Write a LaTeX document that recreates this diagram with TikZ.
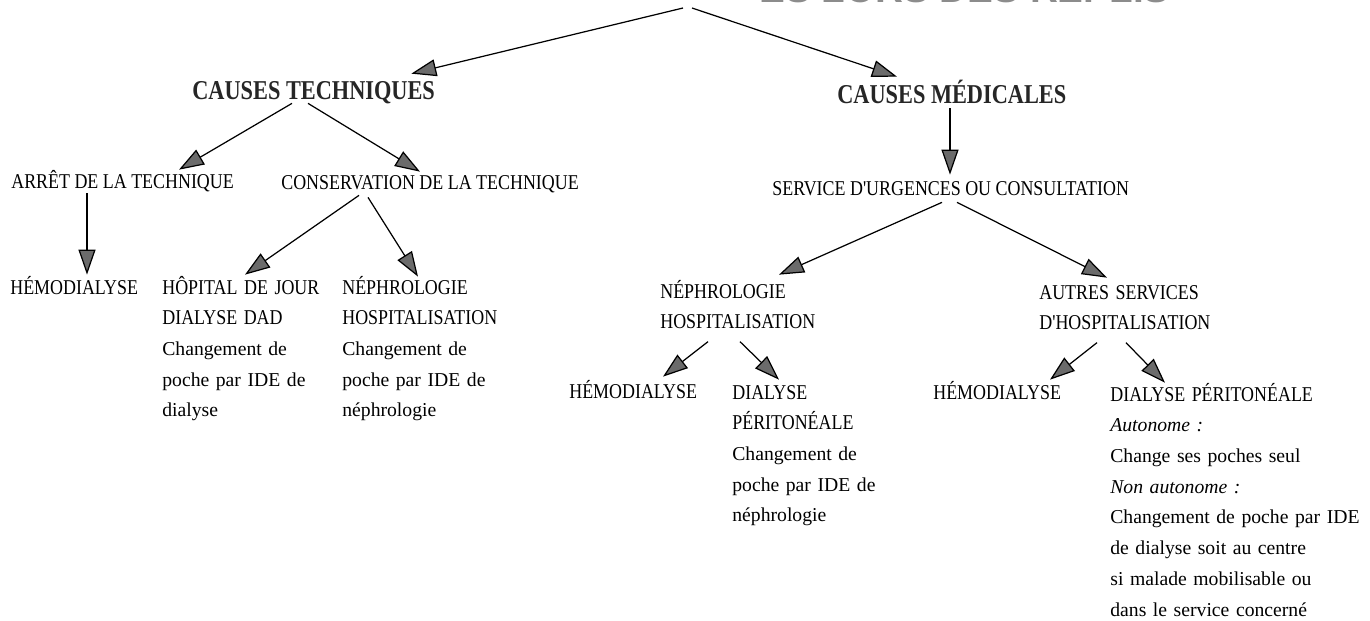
\documentclass[tikz,border=0pt]{standalone}
\usepackage{fontspec}
\setmainfont{Liberation Serif}
\newfontfamily\capsfont{Liberation Serif}[FakeStretch=0.85]
\newfontfamily\headfont{Liberation Serif}[FakeStretch=0.82]
\newfontfamily\titlefont{Liberation Sans}
\newcommand{\maiusc}[1]{{\fontsize{12}{17.5}\selectfont\capsfont #1}}
\usetikzlibrary{arrows.meta, positioning, calc}
\tikzset{
    item/.style={font=\fontsize{12}{17.5}\selectfont\capsfont, inner sep=0pt, text height=0.24cm, text depth=0pt}, % una riga in maiuscolo
    block/.style={font=\fontsize{11.2}{17.5}\selectfont, align=left, text width=#1, inner sep=0pt, text height=0.24cm}, % piu righe
    cause/.style={font=\fontsize{15.5}{18}\selectfont\headfont\bfseries, text=black!85, inner sep=0pt, text height=0.36cm, text depth=0pt},
    title/.style={font=\fontsize{22}{24}\selectfont\titlefont\bfseries, text=black!45, inner sep=0pt},
}
\tikzstyle{arrow} = [line width=0.7pt, -{Triangle[length=0.5cm, width=0.34cm, fill=black!58]}]

\begin{document}
\begin{tikzpicture}[x=0.02cm, y=-0.02cm]
    \useasboundingbox (0,0) rectangle (1370,620);

    % Titolo (tagliato)
    \begin{scope}
        \clip (0,0) rectangle (1370,620);
        \node[title, anchor=base east] (tit) at (1170,2) {ES LORS DES REPLIS};
    \end{scope}
    \coordinate (top) at (687,6);

    % Cause
    \node[cause, anchor=base west] (tec) at (192,99) {CAUSES TECHNIQUES};
    \node[cause, anchor=base west] (med) at (837,103) {CAUSES MÉDICALES};

    % Ramo tecnico
    \node[item, anchor=base west] (arr) at (11,188) {ARRÊT DE LA TECHNIQUE};
    \node[item, anchor=base west] (cons) at (281,189) {CONSERVATION DE LA TECHNIQUE};
    \node[item, anchor=base west] (hemoA) at (10,294) {HÉMODIALYSE};
    \node[block=3.4cm, anchor=base west] (hop) at (162,294)
        {\maiusc{HÔPITAL DE JOUR}\\\maiusc{DIALYSE DAD}\\Changement de\\poche par IDE de\\dialyse};
    \node[block=3.4cm, anchor=base west] (nephA) at (342,294)
        {\maiusc{NÉPHROLOGIE}\\\maiusc{HOSPITALISATION}\\Changement de\\poche par IDE de\\néphrologie};

    % Ramo medico
    \node[item, anchor=base west] (serv) at (772,195) {SERVICE D'URGENCES OU CONSULTATION};
    \node[block=3.4cm, anchor=base west] (nephB) at (660,298)
        {\maiusc{NÉPHROLOGIE}\\\maiusc{HOSPITALISATION}};
    \node[block=3.8cm, anchor=base west] (autr) at (1039,299)
        {\maiusc{AUTRES SERVICES}\\\maiusc{D'HOSPITALISATION}};
    \node[item, anchor=base west] (hemoB) at (569,398) {HÉMODIALYSE};
    \node[block=3.4cm, anchor=base west] (dpB) at (732,399)
        {\maiusc{DIALYSE}\\\maiusc{PÉRITONÉALE}\\Changement de\\poche par IDE de\\néphrologie};
    \node[item, anchor=base west] (hemoC) at (933,399) {HÉMODIALYSE};
    \node[block=5.6cm, anchor=base west] (dpC) at (1110,401)
        {\maiusc{DIALYSE PÉRITONÉALE}\\\textit{Autonome :}\\Change ses poches seul\\\textit{Non autonome :}\\Changement de poche par IDE\\de dialyse soit au centre\\si malade mobilisable ou\\dans le service concerné};

    % Frecce
    \draw[arrow] ($(top)+(-4,2)$) -- ($(tec.north east)+(-24,-7)$);
    \draw[arrow] ($(top)+(5,2)$) -- ($(med.north west)+(60,-8)$);
    \draw[arrow] ($(tec.south west)+(100,4)$) -- ($(arr.north west)+(168,-6)$);
    \draw[arrow] ($(tec.south west)+(116,4)$) -- ($(cons.north west)+(139,-5)$);
    \draw[arrow] ($(arr.south west)+(76,5)$) -- ($(hemoA.north west)+(77,-7)$);
    \draw[arrow] ($(cons.south west)+(78,6)$) -- ($(hop.north west)+(83,-7)$);
    \draw[arrow] ($(cons.south west)+(87,8)$) -- ($(nephA.north west)+(76,-5)$);
    \draw[arrow] ($(med.south west)+(113,5)$) -- ($(serv.north west)+(178,-8)$);
    \draw[arrow] ($(serv.south west)+(170,7)$) -- ($(nephB.north west)+(119,-11)$);
    \draw[arrow] ($(serv.south west)+(185,7)$) -- ($(autr.north west)+(68,-9)$);
    \draw[arrow] ($(nephB.north west)+(48,56)$) -- ($(hemoB.north west)+(94,-9)$);
    \draw[arrow] ($(nephB.north west)+(80,56)$) -- ($(dpB.north west)+(47,-7)$);
    \draw[arrow] ($(autr.north west)+(58,56)$) -- ($(hemoC.north west)+(117,-7)$);
    \draw[arrow] ($(autr.north west)+(87,56)$) -- ($(dpC.north west)+(55,-6)$);

\end{tikzpicture}
\end{document}
